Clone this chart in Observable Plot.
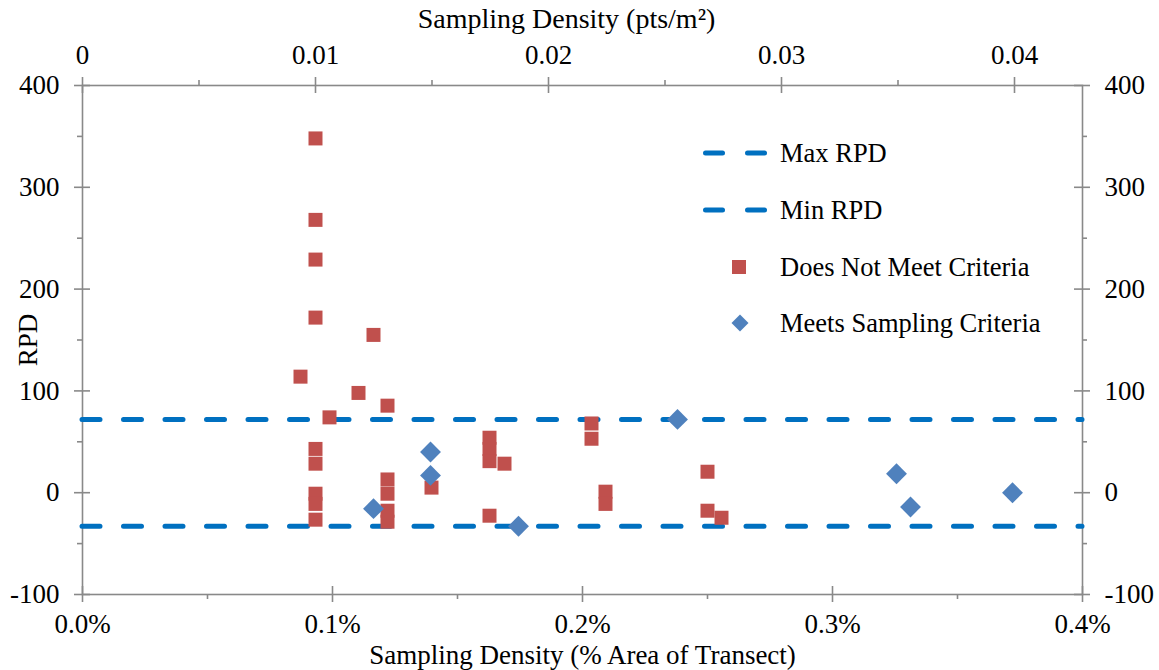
<!DOCTYPE html>
<html><head><meta charset="utf-8">
<script src="https://cdn.jsdelivr.net/npm/d3@7"></script>
<script src="https://cdn.jsdelivr.net/npm/@observablehq/plot@0.6"></script>
<style>
body{margin:0;background:#fff;}
#wrap{position:relative;width:1159px;height:670px;font-family:"Liberation Serif","Times New Roman",serif;}
#wrap svg text{font-family:"Liberation Serif","Times New Roman",serif !important;font-variant:normal !important;}
.lrow{position:absolute;left:700px;height:36px;display:flex;align-items:center;white-space:nowrap;font-size:26.5px;color:#000;}
.lrow svg{flex:none;}
</style></head><body><div id="wrap"></div>
<script>
// ---- data ----
const maxRPD = 72;
const minRPD = -33;
// Does Not Meet Criteria: sampling density (% area of transect), RPD
const notMeetX = [0.0932,0.0932,0.0932,0.0932,0.0932,0.0932,0.0932,0.0932,0.0932,
  0.0872,0.0988,0.1104,0.1164,0.122,0.122,0.122,0.122,0.122,
  0.1396,0.1628,0.1628,0.1628,0.1628,0.1688,0.2036,0.2036,0.2092,0.2092,0.25,0.25,0.2556];
const notMeetY = [348,268,229,172,43,28.5,-1,-11,-26.5,
  114,74,98,155,85.5,13,-1,-17.7,-28.5,
  5,54,43,31,-22.6,28.5,68,53,1,-11,20.6,-17.7,-24.6];
// Meets Sampling Criteria
const meetsX = [0.1164,0.1392,0.1392,0.1744,0.238,0.3256,0.3312,0.372];
const meetsY = [-15.7,40,17,-33,72,18.6,-14,0];

const bottomTicks = [0,0.1,0.2,0.3,0.4];
const bottomTickLabels = ["0.0%","0.1%","0.2%","0.3%","0.4%"];
const bottomMinor = [0.05,0.15,0.25,0.35];
const topTickValues = [0,0.01,0.02,0.03,0.04];
const topTickLabels = ["0","0.01","0.02","0.03","0.04"];
const topMinorValues = [0.005,0.015,0.025,0.035];
const pctPerPt = 9.32; // % area per (pts/m2)
const yTicks = [-100,0,100,200,300,400];
const yMinor = [-50,50,150,250,350];

const seriesNames = ["Max RPD","Min RPD","Does Not Meet Criteria","Meets Sampling Criteria"];
const red = "#C0504D", blue = "#4F81BD", lineBlue = "#0070C0", gray = "#898989";

// ---- build ----
const notMeet = notMeetX.map((x,i)=>({x, y: notMeetY[i]}));
const meets = meetsX.map((x,i)=>({x, y: meetsY[i]}));
const topTicks = topTickValues.map(v=>v*pctPerPt);
const topMinor = topMinorValues.map(v=>v*pctPerPt);
const bottomFmt = new Map(bottomTicks.map((t,i)=>[t,bottomTickLabels[i]]));
const topFmt = new Map(topTicks.map((t,i)=>[t,topTickLabels[i]]));

const W = 1159, H = 670, mL = 82, mR = 77, mT = 85, mB = 76;
const pw = W - mL - mR, ph = H - mT - mB;
const tk = 8, mk = 5;
const tickStyle = {stroke: gray, strokeWidth: 1.6};
const FONT = '"Liberation Serif","Times New Roman",serif';
const textStyle = {fontFamily: FONT, fontSize: 27, fill: "#000"};

const chart = Plot.plot({
  width: W, height: H,
  marginLeft: mL, marginRight: mR, marginTop: mT, marginBottom: mB,
  style: {fontFamily: FONT, fontSize: "27px", color: "#000", background: "#fff"},
  x: {domain: [0, 0.4], axis: null},
  y: {domain: [-100, 400], axis: null},
  marks: [
    // axis lines
    Plot.frame({stroke: gray, strokeWidth: 1.6}),
    // major ticks crossing the axis lines
    Plot.tickX(bottomTicks, {x: d=>d, insetTop: ph - tk, insetBottom: -tk, ...tickStyle}),
    Plot.tickX(topTicks, {x: d=>d, insetBottom: ph - tk, insetTop: -tk, ...tickStyle}),
    Plot.tickY(yTicks, {y: d=>d, insetRight: pw - tk, insetLeft: -tk, ...tickStyle}),
    Plot.tickY(yTicks, {y: d=>d, insetLeft: pw - tk, insetRight: -tk, ...tickStyle}),
    // minor ticks outside
    Plot.tickX(bottomMinor, {x: d=>d, insetTop: ph, insetBottom: -mk, ...tickStyle}),
    Plot.tickX(topMinor, {x: d=>d, insetBottom: ph, insetTop: -mk, ...tickStyle}),
    Plot.tickY(yMinor, {y: d=>d, insetRight: pw, insetLeft: -mk, ...tickStyle}),
    Plot.tickY(yMinor, {y: d=>d, insetLeft: pw, insetRight: -mk, ...tickStyle}),
    // tick labels
    Plot.axisX({anchor: "bottom", ticks: bottomTicks, tickFormat: d=>bottomFmt.get(d), tickSize: 0, tickPadding: 19, label: null, ...textStyle}),
    Plot.axisX({anchor: "top", ticks: topTicks, tickFormat: d=>topFmt.get(d), tickSize: 0, tickPadding: 22, label: null, ...textStyle}),
    Plot.axisY({anchor: "left", ticks: yTicks, tickFormat: d=>String(d), tickSize: 0, tickPadding: 23, label: null, ...textStyle}),
    Plot.axisY({anchor: "right", ticks: yTicks, tickFormat: d=>String(d), tickSize: 0, tickPadding: 22, label: null, ...textStyle}),
    // axis titles
    Plot.text(["Sampling Density (% Area of Transect)"], {frameAnchor: "bottom", lineAnchor: "middle", textAnchor: "middle", dy: 61, text: d=>d, ...textStyle}),
    Plot.text(["Sampling Density (pts/m²)"], {frameAnchor: "top", lineAnchor: "middle", textAnchor: "middle", dx: -16, dy: -66, text: d=>d, ...textStyle, fontSize: 28}),
    Plot.text(["RPD"], {frameAnchor: "left", lineAnchor: "middle", textAnchor: "middle", dx: -54, rotate: -90, text: d=>d, ...textStyle}),
    // reference lines
    Plot.ruleY([maxRPD], {stroke: lineBlue, strokeWidth: 5, strokeDasharray: "18,23.5", strokeLinecap: "round"}),
    Plot.ruleY([minRPD], {stroke: lineBlue, strokeWidth: 5, strokeDasharray: "18,23.5", strokeLinecap: "round"}),
    // points
    Plot.dot(notMeet, {x: "x", y: "y", symbol: "square", r: 7.9, fill: red, stroke: "none"}),
    Plot.dot(meets, {x: "x", y: "y", symbol: "diamond2", r: 9.4, fill: blue, stroke: "none"})
  ]
});

const wrap = document.getElementById("wrap");
wrap.appendChild(chart);

// legend
const rowCenters = [153, 210, 267, 323];
const dashSample = `<line x1="5.5" y1="18" x2="22.5" y2="18" stroke="${lineBlue}" stroke-width="5" stroke-linecap="round"/><line x1="47.5" y1="18" x2="64.5" y2="18" stroke="${lineBlue}" stroke-width="5" stroke-linecap="round"/>`;
const samples = [
  dashSample,
  dashSample,
  `<rect x="32" y="11" width="14" height="14" fill="${red}"/>`,
  `<path d="M40,9.5L48.5,18L40,26.5L31.5,18Z" fill="${blue}"/>`
];
seriesNames.forEach((name, i) => {
  const row = document.createElement("div");
  row.className = "lrow";
  row.style.top = (rowCenters[i] - 18) + "px";
  row.innerHTML = `<svg width="80" height="36">${samples[i]}</svg><span>${name}</span>`;
  wrap.appendChild(row);
});
</script>
</body></html>
